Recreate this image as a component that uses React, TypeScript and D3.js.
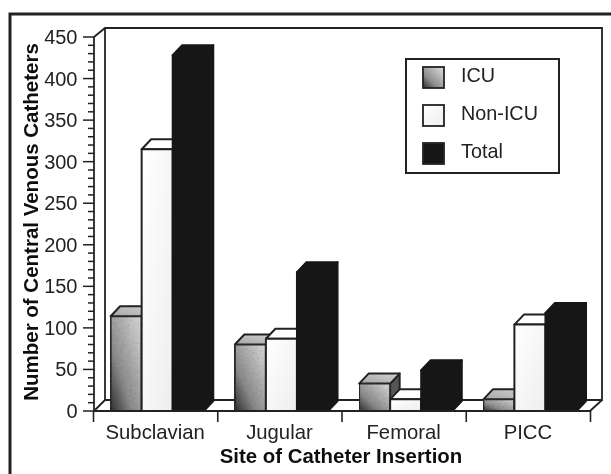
import React, { useMemo } from "react";
import * as d3 from "d3";

const categories = ["Subclavian", "Jugular", "Femoral", "PICC"];
const seriesNames = ["ICU", "Non-ICU", "Total"];
const icuValues = [114, 80, 33, 14];
const nonIcuValues = [315, 87, 14, 104];
const totalValues = [428, 167, 49, 118];
const yTicks = [0, 50, 100, 150, 200, 250, 300, 350, 400, 450];
const yMinorTicks = d3.range(0, 451, 10);

const W = 611, H = 474;
const FONT = "'Liberation Sans', Arial, Helvetica, sans-serif";
const INK = "#222";

export default function App() {
  const y = useMemo(() => d3.scaleLinear().domain([0, 450]).range([411, 37]), []);
  const x0 = useMemo(() => d3.scaleBand<string>().domain(categories).range([93.5, 590.5]).paddingInner(0.25).paddingOuter(0.125).align(0.55), []);
  const x1 = useMemo(() => d3.scaleBand<string>().domain(seriesNames).range([0, x0.bandwidth()]), [x0]);
  const dx = 9.5, dy = 10;
  const backX = 105, backRight = 602, backTop = 28, backFloor = 400;
  const x0Left = 94, xRight = 590;

  const seriesValues: Record<string, number[]> = { ICU: icuValues, "Non-ICU": nonIcuValues, Total: totalValues };
  const frontFill: Record<string, string> = { ICU: "url(#icuFront)", "Non-ICU": "url(#nonFront)", Total: "#141414" };
  const topFill: Record<string, string> = { ICU: "url(#icuTop)", "Non-ICU": "#fff", Total: "#141414" };
  const sideFill: Record<string, string> = { ICU: "#555", "Non-ICU": "#eee", Total: "#141414" };

  const tickEdges = d3.range(categories.length + 1).map((i) => 93.5 + (i * (590.5 - 93.5)) / categories.length);

  return (
    <div style={{ position: "fixed", left: 0, top: 0 }}>
      <svg width={W} height={H} viewBox={`0 0 ${W} ${H}`} style={{ display: "block", background: "#fff", fontFamily: FONT }}>
        <defs>
          <linearGradient id="icuFront" x1="0" y1="1" x2="1" y2="0">
            <stop offset="0" stopColor="#2a2a2a" />
            <stop offset="0.35" stopColor="#8c8c8c" />
            <stop offset="1" stopColor="#e0e0e0" />
          </linearGradient>
          <linearGradient id="nonFront" x1="0" y1="0" x2="1" y2="1">
            <stop offset="0" stopColor="#fff" />
            <stop offset="1" stopColor="#eeeeee" />
          </linearGradient>
          <linearGradient id="icuTop" x1="0" y1="1" x2="1" y2="0">
            <stop offset="0" stopColor="#a5a5a5" />
            <stop offset="1" stopColor="#d0d0d0" />
          </linearGradient>
          <filter id="grain" x="0" y="0" width="1" height="1">
            <feTurbulence type="fractalNoise" baseFrequency="0.4" numOctaves="2" seed="4" result="n" />
            <feColorMatrix in="n" type="matrix" values="0 0 0 0 0.1  0 0 0 0 0.1  0 0 0 0 0.1  0 0 0 0.4 -0.1" result="a" />
            <feComposite in="a" in2="SourceGraphic" operator="in" result="c" />
            <feMerge>
              <feMergeNode in="SourceGraphic" />
              <feMergeNode in="c" />
            </feMerge>
          </filter>
          <filter id="soft" x="0" y="0" width="1" height="1" filterUnits="objectBoundingBox">
            <feGaussianBlur stdDeviation="0.45" />
          </filter>
        </defs>

        <g filter="url(#soft)">
          <rect x={0} y={0} width={W} height={H} fill="#fff" />
          {/* outer frame: top and left only */}
          <path d={`M10,${H} V14 H${W}`} fill="none" stroke="#222" strokeWidth={3} />

          {/* back wall and floor */}
          <g fill="none" stroke={INK} strokeWidth={1.8}>
            <path d={`M${x0Left},${y(450)} L${backX},${backTop} H${backRight} V${backFloor} H${backX} L${x0Left},${y(0)}`} />
            <path d={`M${backX},${backTop} V${backFloor}`} />
            <path d={`M${x0Left},${y(450)} V${y(0)}`} />
            <path d={`M${backRight},${backFloor} L${xRight},${y(0)}`} />
          </g>

          {/* bars */}
          {categories.map((cat, ci) => (
            <g key={cat}>
              {seriesNames.map((s) => {
                const v = seriesValues[s][ci];
                const bx = (x0(cat) as number) + (x1(s) as number);
                const w = x1.bandwidth();
                const ty = y(v), by = y(0);
                const stroke = s === "Total" ? "#141414" : INK;
                return (
                  <g key={s} stroke={stroke} strokeWidth={2} strokeLinejoin="round">
                    <polygon points={`${bx + w},${ty} ${bx + w + dx},${ty - dy} ${bx + w + dx},${by - dy} ${bx + w},${by}`} fill={sideFill[s]} />
                    <polygon points={`${bx},${ty} ${bx + dx},${ty - dy} ${bx + w + dx},${ty - dy} ${bx + w},${ty}`} fill={topFill[s]} />
                    <rect x={bx} y={ty} width={w} height={by - ty} fill={frontFill[s]} filter={s === "ICU" ? "url(#grain)" : undefined} />
                  </g>
                );
              })}
            </g>
          ))}

          {/* x axis */}
          <path d={`M${x0Left},${y(0)} H${xRight}`} stroke={INK} strokeWidth={2} fill="none" />
          {tickEdges.map((t, i) => (
            <line key={i} x1={t} x2={t} y1={y(0)} y2={y(0) + 11} stroke={INK} strokeWidth={1.6} />
          ))}
          {categories.map((c) => (
            <text key={c} x={(x0(c) as number) + x0.bandwidth() / 2 - 2} y={439} textAnchor="middle" fontSize={20.3} fill="#222">{c}</text>
          ))}
          <text x={341} y={462.5} textAnchor="middle" fontSize={20.4} fontWeight="bold" fill="#111">Site of Catheter Insertion</text>

          {/* y axis */}
          {yMinorTicks.map((t) => (
            <line key={t} x1={t % 50 === 0 ? 83 : 88} x2={x0Left} y1={y(t)} y2={y(t)} stroke={INK} strokeWidth={1.5} />
          ))}
          {yTicks.map((t) => (
            <text key={t} x={77.5} y={y(t) + 7} textAnchor="end" fontSize={20} fill="#222">{t}</text>
          ))}
          <text transform="translate(38,222) rotate(-90)" textAnchor="middle" fontSize={20.5} fontWeight="bold" fill="#111">Number of Central Venous Catheters</text>

          {/* legend */}
          <rect x={406} y={59} width={153} height={114} fill="#fff" stroke={INK} strokeWidth={2} />
          {seriesNames.map((s, i) => (
            <g key={s}>
              <rect x={423} y={67 + i * 38} width={21} height={21} fill={frontFill[s]} stroke={INK} strokeWidth={1.8} />
              <text x={461} y={[82, 120, 158][i]} fontSize={19.8} fill="#222">{s}</text>
            </g>
          ))}
        </g>
      </svg>
    </div>
  );
}
